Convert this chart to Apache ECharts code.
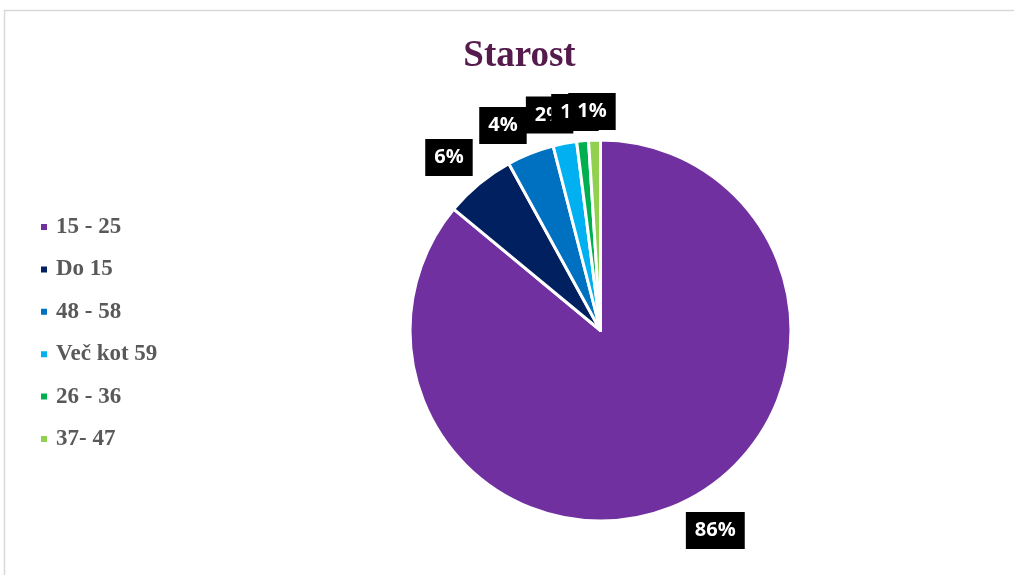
<!DOCTYPE html>
<html>
<head>
<meta charset="utf-8">
<script src="https://cdn.jsdelivr.net/npm/echarts@6/dist/echarts.min.js"></script>
<style>
  html, body { margin: 0; padding: 0; background: #fff; }
  #chart { width: 1014px; height: 575px; }
</style>
</head>
<body>
<div id="chart"></div>
<script>
// Age groups and their shares (percent)
const categories = ['15 - 25', 'Do 15', '48 - 58', 'Več kot 59', '26 - 36', '37- 47'];
const shares = [86, 6, 4, 2, 1, 1];
const sliceColors = ['#7030A0', '#002060', '#0070C0', '#00B0F0', '#00B050', '#92D050'];

const PIE_CX = 600.5, PIE_CY = 330.5, PIE_R = 190.5;
const LABEL_GAP = 10;

const total = shares.reduce((a, b) => a + b, 0);
// mid angle of each slice, clockwise from 12 o'clock, in radians
const midAngles = [];
{
  let acc = 0;
  shares.forEach(v => {
    midAngles.push((acc + v / 2) / total * Math.PI * 2);
    acc += v;
  });
}

const clamp = (v, lo, hi) => Math.max(lo, Math.min(hi, v));

const chart = echarts.init(document.getElementById('chart'), null, { renderer: 'canvas' });

chart.setOption({
  backgroundColor: '#ffffff',
  animation: false,
  graphic: [{
    type: 'polyline',
    shape: { points: [[4.5, 600], [4.5, 10.5], [1100, 10.5]] },
    style: { stroke: '#d9d9d9', lineWidth: 1.5, fill: null },
    silent: true
  }],
  title: {
    text: 'Starost',
    left: 514.5,
    textAlign: 'center',
    top: 33,
    textStyle: {
      fontFamily: 'Liberation Serif',
      fontWeight: 'bold',
      fontSize: 37,
      color: '#561B4D'
    }
  },
  legend: {
    orient: 'vertical',
    left: 34,
    top: 210,
    icon: 'rect',
    itemWidth: 8,
    itemHeight: 8,
    itemGap: 18.4,
    textStyle: {
      fontFamily: 'Liberation Serif',
      fontWeight: 'bold',
      fontSize: 23,
      lineHeight: 24,
      color: '#595959',
      padding: [0, 0, 0, 3]
    },
    data: categories
  },
  series: [{
    type: 'pie',
    center: [PIE_CX, PIE_CY],
    radius: PIE_R,
    startAngle: 90,
    clockwise: true,
    avoidLabelOverlap: false,
    itemStyle: { borderColor: '#ffffff', borderWidth: 3 },
    label: {
      show: true,
      position: 'outside',
      formatter: p => p.value + '%',
      fontFamily: 'Open Sans',
      fontWeight: 'bold',
      fontSize: 20,
      lineHeight: 23,
      color: '#ffffff',
      backgroundColor: '#000000',
      padding: [7, 9, 7, 9]
    },
    labelLine: { show: false },
    labelLayout: function (params) {
      const a = midAngles[params.dataIndex];
      const ux = Math.sin(a), uy = -Math.cos(a);
      const d = PIE_R + LABEL_GAP;
      const w = params.labelRect.width, h = params.labelRect.height;
      const px = PIE_CX + ux * d, py = PIE_CY + uy * d;
      return {
        x: px + (w / 2) * clamp(ux * 3, -1, 1),
        y: py + (h / 2) * clamp(uy * 3, -1, 1),
        align: 'center',
        verticalAlign: 'middle'
      };
    },
    data: categories.map((name, i) => ({
      name: name,
      value: shares[i],
      itemStyle: { color: sliceColors[i] }
    }))
  }]
});
</script>
</body>
</html>
